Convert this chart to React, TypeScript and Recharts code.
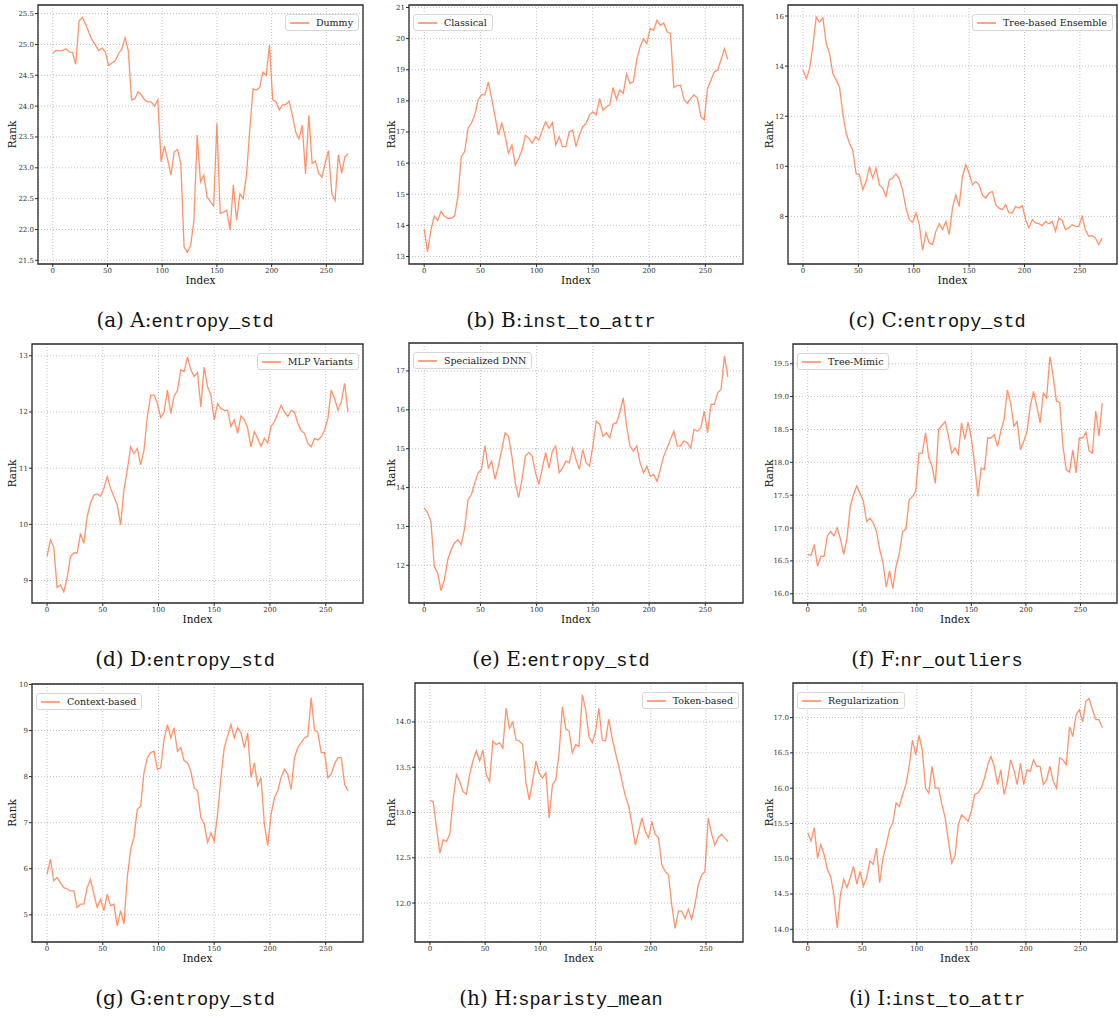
import { LineChart, Line, XAxis, YAxis, CartesianGrid, Legend, ReferenceArea } from "recharts";

// x positions (every 3rd index)
const INDEX = [
  0, 3, 6, 9, 12, 15, 18, 21, 24, 27,
  30, 33, 36, 39, 42, 45, 48, 51, 54, 57,
  60, 63, 66, 69, 72, 75, 78, 81, 84, 87,
  90, 93, 96, 99, 102, 105, 108, 111, 114, 117,
  120, 123, 126, 129, 132, 135, 138, 141, 144, 147,
  150, 153, 156, 159, 162, 165, 168, 171, 174, 177,
  180, 183, 186, 189, 192, 195, 198, 201, 204, 207,
  210, 213, 216, 219, 222, 225, 228, 231, 234, 237,
  240, 243, 246, 249, 252, 255, 258, 261, 264, 267,
  270,
];

const DUMMY = [
  24.86, 24.9, 24.9, 24.9, 24.93, 24.88, 24.87, 24.68, 25.38, 25.44,
  25.33, 25.2, 25.07, 24.99, 24.9, 24.94, 24.88, 24.66, 24.7, 24.73,
  24.85, 24.92, 25.11, 24.9, 24.1, 24.12, 24.23, 24.18, 24.1, 24.07,
  24.07, 24.0, 24.1, 23.1, 23.35, 23.13, 22.88, 23.26, 23.3, 23.07,
  21.72, 21.63, 21.74, 22.15, 23.53, 22.77, 22.88, 22.53, 22.45, 22.38,
  23.72, 22.26, 22.28, 22.31, 21.99, 22.72, 22.15, 22.58, 22.5, 22.88,
  23.61, 24.28, 24.26, 24.3, 24.55, 24.5, 24.99, 24.1, 24.07, 23.94,
  24.02, 24.03, 24.08, 23.85, 23.58, 23.47, 23.69, 22.9, 23.85, 23.07,
  23.11, 22.91, 22.85, 23.08, 23.28, 22.58, 22.47, 23.21, 22.91, 23.18,
  23.23,
];

const CLASSICAL = [
  13.88, 13.15, 13.86, 14.3, 14.15, 14.45, 14.3, 14.23, 14.23, 14.3,
  14.93, 16.2, 16.37, 17.12, 17.28, 17.55, 18.03, 18.2, 18.2, 18.6,
  18.08, 17.5, 16.9, 17.28, 16.87, 16.32, 16.58, 15.94, 16.15, 16.42,
  16.9, 16.8, 16.64, 16.85, 16.74, 17.06, 17.33, 17.12, 17.3, 16.58,
  16.85, 16.53, 16.53, 17.0, 17.06, 16.53, 16.9, 17.17, 17.28, 17.55,
  17.65, 17.55, 18.08, 17.7, 17.81, 17.87, 18.43, 18.05, 18.35, 18.24,
  18.86, 18.56, 18.62, 19.31, 19.74, 20.0, 19.84, 20.33, 20.27, 20.59,
  20.43, 20.5, 20.22, 20.17, 18.43, 18.5, 18.5, 18.05, 17.92, 18.08,
  18.19, 18.08, 17.49, 17.39, 18.4, 18.67, 18.93, 18.99, 19.33, 19.68,
  19.33,
];

const TREE_ENSEMBLE = [
  13.86, 13.5, 13.9, 14.83, 15.96, 15.76, 15.93, 14.9, 14.5, 13.7,
  13.44, 13.17, 12.11, 11.32, 10.92, 10.63, 9.7, 9.66, 9.06, 9.4,
  9.99, 9.53, 9.93, 9.26, 9.13, 8.8, 9.46, 9.53, 9.7, 9.49,
  9.04, 8.33, 7.87, 7.76, 8.14, 7.68, 6.65, 7.34, 6.94, 6.88,
  7.41, 7.71, 7.47, 7.8, 7.27, 8.33, 8.86, 8.4, 9.6, 10.06,
  9.73, 9.26, 9.4, 9.26, 8.86, 8.73, 8.93, 9.0, 8.47, 8.33,
  8.27, 8.47, 8.14, 8.14, 8.4, 8.33, 8.43, 7.87, 7.54, 7.87,
  7.74, 7.71, 7.63, 7.8, 7.71, 7.8, 7.41, 7.94, 7.84, 7.47,
  7.54, 7.67, 7.6, 7.6, 8.0, 7.47, 7.21, 7.23, 7.14, 6.88,
  7.14,
];

const MLP = [
  9.43, 9.72, 9.6, 8.88, 8.92, 8.8, 9.04, 9.43, 9.49, 9.49,
  9.84, 9.66, 10.14, 10.38, 10.52, 10.54, 10.5, 10.64, 10.85, 10.64,
  10.49, 10.35, 9.99, 10.61, 10.97, 11.38, 11.26, 11.35, 11.06, 11.32,
  11.92, 12.3, 12.3, 12.15, 11.9, 12.0, 12.39, 11.97, 12.28, 12.38,
  12.75, 12.72, 12.98, 12.75, 12.63, 12.7, 12.09, 12.8, 12.45, 12.3,
  11.86, 12.15, 12.06, 12.03, 12.03, 11.74, 11.86, 11.62, 11.93, 11.86,
  11.71, 11.38, 11.65, 11.53, 11.39, 11.53, 11.45, 11.74, 11.83, 11.97,
  12.12, 12.0, 11.92, 12.03, 12.0, 11.8, 11.67, 11.62, 11.44, 11.38,
  11.53, 11.5, 11.56, 11.68, 11.89, 12.39, 12.24, 12.03, 12.18, 12.51,
  12.0,
];

const SPECIALIZED_DNN = [
  13.48, 13.35, 13.13, 11.97, 11.8, 11.35, 11.63, 12.15, 12.4, 12.58,
  12.66, 12.53, 12.96, 13.69, 13.82, 14.12, 14.38, 14.47, 15.08, 14.5,
  14.68, 14.21, 14.55, 14.98, 15.41, 15.32, 14.81, 14.12, 13.74, 14.21,
  14.81, 14.9, 14.81, 14.38, 14.08, 14.5, 14.9, 14.5, 14.94, 15.07,
  14.38, 14.5, 14.68, 14.64, 15.02, 14.72, 14.47, 14.98, 14.64, 14.55,
  15.07, 15.71, 15.63, 15.32, 15.41, 15.28, 15.63, 15.67, 15.93, 16.31,
  15.58, 15.07, 14.94, 15.07, 14.64, 14.38, 14.55, 14.29, 14.34, 14.16,
  14.47, 14.81, 15.02, 15.24, 15.45, 15.08, 15.07, 15.2, 15.15, 15.02,
  15.5, 15.45, 15.54, 15.97, 15.41, 16.14, 16.14, 16.44, 16.53, 17.39,
  16.85,
];

const TREE_MIMIC = [
  16.6, 16.58, 16.75, 16.42, 16.57, 16.57, 16.88, 16.95, 16.88, 17.0,
  16.83, 16.6, 16.85, 17.33, 17.51, 17.64, 17.53, 17.41, 17.1, 17.15,
  17.08, 16.95, 16.67, 16.47, 16.1, 16.35, 16.08, 16.42, 16.62, 16.95,
  16.98, 17.43, 17.48, 17.56, 18.14, 18.14, 18.45, 18.07, 17.94, 17.68,
  18.5, 18.56, 18.62, 18.4, 18.14, 18.22, 18.12, 18.6, 18.35, 18.61,
  18.37, 17.97, 17.48, 17.91, 17.89, 18.37, 18.37, 18.42, 18.24, 18.47,
  18.65, 19.1, 18.9, 18.55, 18.62, 18.19, 18.32, 18.47, 18.85, 19.08,
  18.85, 18.6, 19.05, 18.98, 19.61, 19.31, 18.93, 18.91, 18.24, 17.89,
  17.85, 18.19, 17.84, 18.37, 18.37, 18.46, 18.17, 18.14, 18.78, 18.4,
  18.9,
];

const CONTEXT = [
  5.88, 6.21, 5.74, 5.81, 5.7, 5.59, 5.56, 5.52, 5.52, 5.16,
  5.23, 5.23, 5.59, 5.77, 5.45, 5.16, 5.34, 5.09, 5.45, 5.2,
  5.23, 4.76, 5.09, 4.8, 5.81, 6.42, 6.68, 7.29, 7.36, 8.09,
  8.41, 8.52, 8.55, 8.16, 8.19, 8.81, 9.13, 8.84, 9.06, 8.55,
  8.63, 8.34, 8.3, 8.12, 7.76, 7.69, 7.11, 6.97, 6.57, 6.78,
  6.6, 7.18, 7.98, 8.63, 8.88, 9.13, 8.84, 9.06, 8.95, 8.63,
  8.95, 7.98, 8.3, 7.8, 7.98, 6.97, 6.5, 7.18, 7.54, 7.69,
  7.98, 8.16, 8.05, 7.72, 8.41, 8.63, 8.74, 8.84, 8.88, 9.71,
  9.02, 8.95, 8.52, 8.52, 7.98, 8.05, 8.28, 8.41, 8.41, 7.83,
  7.69,
];

const TOKEN = [
  13.13, 13.12, 12.83, 12.55, 12.7, 12.68, 12.76, 13.14, 13.42, 13.34,
  13.23, 13.2, 13.42, 13.57, 13.68, 13.57, 13.69, 13.42, 13.34, 13.79,
  13.75, 13.77, 13.71, 14.15, 13.93, 14.0, 13.8, 13.79, 13.75, 13.33,
  13.14, 13.34, 13.57, 13.43, 13.38, 13.44, 12.94, 13.31, 13.36, 13.66,
  14.17, 13.92, 13.9, 13.66, 13.75, 13.73, 14.3, 14.14, 13.84, 13.77,
  13.9, 14.15, 13.8, 13.79, 14.03, 13.82, 13.66, 13.51, 13.34, 13.18,
  13.07, 12.87, 12.64, 12.79, 12.94, 12.79, 12.72, 12.9, 12.76, 12.72,
  12.42, 12.35, 12.31, 11.98, 11.72, 11.91, 11.91, 11.83, 11.93, 11.82,
  11.98, 12.2, 12.31, 12.35, 12.94, 12.77, 12.64, 12.72, 12.76, 12.72,
  12.68,
];

const REGULARIZATION = [
  15.37, 15.25, 15.44, 15.01, 15.2, 15.06, 14.85, 14.75, 14.49, 14.02,
  14.49, 14.71, 14.59, 14.73, 14.89, 14.64, 14.82, 14.61, 14.73, 14.97,
  14.92, 15.15, 14.66, 15.01, 15.2, 15.41, 15.51, 15.79, 15.74, 15.91,
  16.05, 16.31, 16.68, 16.47, 16.75, 16.54, 16.0, 15.93, 16.31, 16.0,
  16.0, 15.77, 15.58, 15.25, 14.94, 15.04, 15.48, 15.62, 15.58, 15.53,
  15.67, 15.91, 15.93, 16.0, 16.14, 16.33, 16.45, 16.31, 16.05, 16.26,
  15.91, 16.1, 16.4, 16.26, 16.05, 16.35, 16.05, 16.26, 16.24, 16.4,
  16.31, 16.31, 16.05, 16.12, 16.31, 16.1, 16.0, 16.43, 16.4, 16.33,
  16.87, 16.73, 17.04, 17.11, 16.94, 17.23, 17.27, 17.11, 16.97, 16.97,
  16.86,
];

const X_TICKS = [0, 50, 100, 150, 200, 250];
const TICKS_A = [21.5, 22, 22.5, 23, 23.5, 24, 24.5, 25, 25.5];
const TICKS_B = [13, 14, 15, 16, 17, 18, 19, 20, 21];
const TICKS_C = [8, 10, 12, 14, 16];
const TICKS_D = [9, 10, 11, 12, 13];
const TICKS_E = [12, 13, 14, 15, 16, 17];
const TICKS_F = [16, 16.5, 17, 17.5, 18, 18.5, 19, 19.5];
const TICKS_G = [5, 6, 7, 8, 9, 10];
const TICKS_H = [12, 12.5, 13, 13.5, 14];
const TICKS_I = [14, 14.5, 15, 15.5, 16, 16.5, 17];

const X_DOMAIN = [-13.5, 283.5];
const LINE_COLOR = "#ff7f50";
const SERIF = "'DejaVu Serif', serif";
const AXIS_COLOR = "#2b2b2b";

// frame = plot area box on the page [left, top, right, bottom]
const PANELS = [
  { name: "Dummy", values: DUMMY, ticks: TICKS_A, domain: [21.44, 25.64], dec: 1, frame: [38, 5, 363, 264], legend: "right", rankX: 12.5, caption: ["(a) A:", "entropy_std"], cx: 185 },
  { name: "Classical", values: CLASSICAL, ticks: TICKS_B, domain: [12.76, 21.08], dec: 0, frame: [409, 5, 743, 264], legend: "left", rankX: 391, caption: ["(b) B:", "inst_to_attr"], cx: 561 },
  { name: "Tree-based Ensemble", values: TREE_ENSEMBLE, ticks: TICKS_C, domain: [6.1, 16.44], dec: 0, frame: [788, 5, 1117, 264], legend: "right", rankX: 769, caption: ["(c) C:", "entropy_std"], cx: 937 },
  { name: "MLP Variants", values: MLP, ticks: TICKS_D, domain: [8.6, 13.21], dec: 0, frame: [32, 344, 363, 603], legend: "right", rankX: 12.5, caption: ["(d) D:", "entropy_std"], cx: 185 },
  { name: "Specialized DNN", values: SPECIALIZED_DNN, ticks: TICKS_E, domain: [11.03, 17.72], dec: 0, frame: [409, 343, 743, 603], legend: "left", rankX: 391, caption: ["(e) E:", "entropy_std"], cx: 561 },
  { name: "Tree-Mimic", values: TREE_MIMIC, ticks: TICKS_F, domain: [15.86, 19.8], dec: 1, frame: [793, 344, 1117, 603], legend: "left", rankX: 769, caption: ["(f) F:", "nr_outliers"], cx: 937 },
  { name: "Context-based", values: CONTEXT, ticks: TICKS_G, domain: [4.41, 10.01], dec: 0, frame: [32, 684, 363, 942], legend: "left", rankX: 12.5, caption: ["(g) G:", "entropy_std"], cx: 185 },
  { name: "Token-based", values: TOKEN, ticks: TICKS_H, domain: [11.57, 14.43], dec: 1, frame: [415, 683, 743, 942], legend: "right", rankX: 391, caption: ["(h) H:", "sparisty_mean"], cx: 561 },
  { name: "Regularization", values: REGULARIZATION, ticks: TICKS_I, domain: [13.82, 17.49], dec: 1, frame: [793, 683, 1117, 942], legend: "left", rankX: 769, caption: ["(i) I:", "inst_to_attr"], cx: 937 },
];

const CAPTION_Y = [327, 666, 1005];

function LegendBox(props: any) {
  const item = props.payload && props.payload[0];
  return (
    <div style={{
      display: "inline-flex",
      alignItems: "center",
      border: "1px solid #d6d6d6",
      borderRadius: 3,
      background: "rgba(255,255,255,0.85)",
      padding: "2px 5px 2px 4px",
      fontFamily: SERIF,
      fontSize: 9.5,
      lineHeight: "11px",
      color: "#222",
      whiteSpace: "nowrap"
    }}>
      <span style={{ display: "inline-block", width: 19, height: 1.6, background: LINE_COLOR, opacity: 0.7, marginRight: 7 }} />
      {item ? item.value : ""}
    </div>
  );
}

function Panel({ p }: { p: any }) {
  const [x0, y0, x1, y1] = p.frame;
  const left = x0 - 45;
  const top = y0 - 5;
  const width = x1 - x0 + 50;
  const height = y1 - y0 + 35;
  const data = INDEX.map((x, i) => ({ x, v: p.values[i] }));
  const tickStyle = { fontSize: 7, fontFamily: SERIF, fill: "#333" };
  const legendPos = p.legend === "right" ? { right: 9 } : { left: 49 };

  return (
    <div style={{ position: "absolute", left, top }}>
      <LineChart width={width} height={height} data={data} margin={{ top: 5, right: 5, left: 0, bottom: 0 }}>
        <CartesianGrid stroke="#b0b0b0" strokeDasharray="1 2" strokeWidth={0.8} />
        <XAxis
          dataKey="x"
          type="number"
          domain={X_DOMAIN}
          ticks={X_TICKS}
          allowDataOverflow
          height={30}
          tickSize={3}
          tickMargin={1}
          tick={tickStyle}
          stroke={AXIS_COLOR}
          axisLine={false}
          tickLine={{ stroke: AXIS_COLOR, strokeWidth: 1 }}
          label={{ value: "Index", position: "insideBottom", offset: 10, style: { fontSize: 10.5, fontFamily: SERIF, fill: "#111" } }}
        />
        <YAxis
          type="number"
          domain={p.domain}
          ticks={p.ticks}
          allowDataOverflow
          width={45}
          tickSize={3}
          tickMargin={1}
          tick={tickStyle}
          tickFormatter={(v: number) => v.toFixed(p.dec)}
          stroke={AXIS_COLOR}
          axisLine={false}
          tickLine={{ stroke: AXIS_COLOR, strokeWidth: 1 }}
          label={{ value: "Rank", angle: -90, position: "insideLeft", offset: p.rankX - left, style: { textAnchor: "middle", fontSize: 10.5, fontFamily: SERIF, fill: "#111" } }}
        />
        {/* axes frame */}
        <ReferenceArea
          x1={X_DOMAIN[0]}
          x2={X_DOMAIN[1]}
          y1={p.domain[0]}
          y2={p.domain[1]}
          ifOverflow="visible"
          fill="none"
          fillOpacity={0}
          stroke={AXIS_COLOR}
          strokeWidth={1.3}
        />
        <Legend
          layout="horizontal"
          verticalAlign="middle"
          align="center"
          wrapperStyle={{ top: 9.5, width: "auto", ...legendPos }}
          content={<LegendBox />}
        />
        <Line
          type="linear"
          dataKey="v"
          name={p.name}
          stroke={LINE_COLOR}
          strokeOpacity={0.85}
          strokeWidth={1.3}
          dot={false}
          isAnimationActive={false}
        />
      </LineChart>
    </div>
  );
}

export default function App() {
  return (
    <div style={{ position: "absolute", left: 0, top: 0, width: 1119, height: 1017, overflow: "hidden", background: "#fff" }}>
      {PANELS.map((p) => (
        <Panel key={p.name} p={p} />
      ))}
      {PANELS.map((p, i) => (
        <div
          key={"cap" + i}
          style={{
            position: "absolute",
            left: p.cx - 200,
            width: 400,
            top: CAPTION_Y[Math.floor(i / 3)] - 18,
            textAlign: "center",
            fontSize: 20,
            lineHeight: "22px",
            color: "#111",
            whiteSpace: "nowrap"
          }}
        >
          <span style={{ fontFamily: SERIF }}>{p.caption[0]}</span>
          <span style={{ fontFamily: "'Liberation Mono', monospace", fontSize: 18.5 }}>{p.caption[1]}</span>
        </div>
      ))}
    </div>
  );
}
